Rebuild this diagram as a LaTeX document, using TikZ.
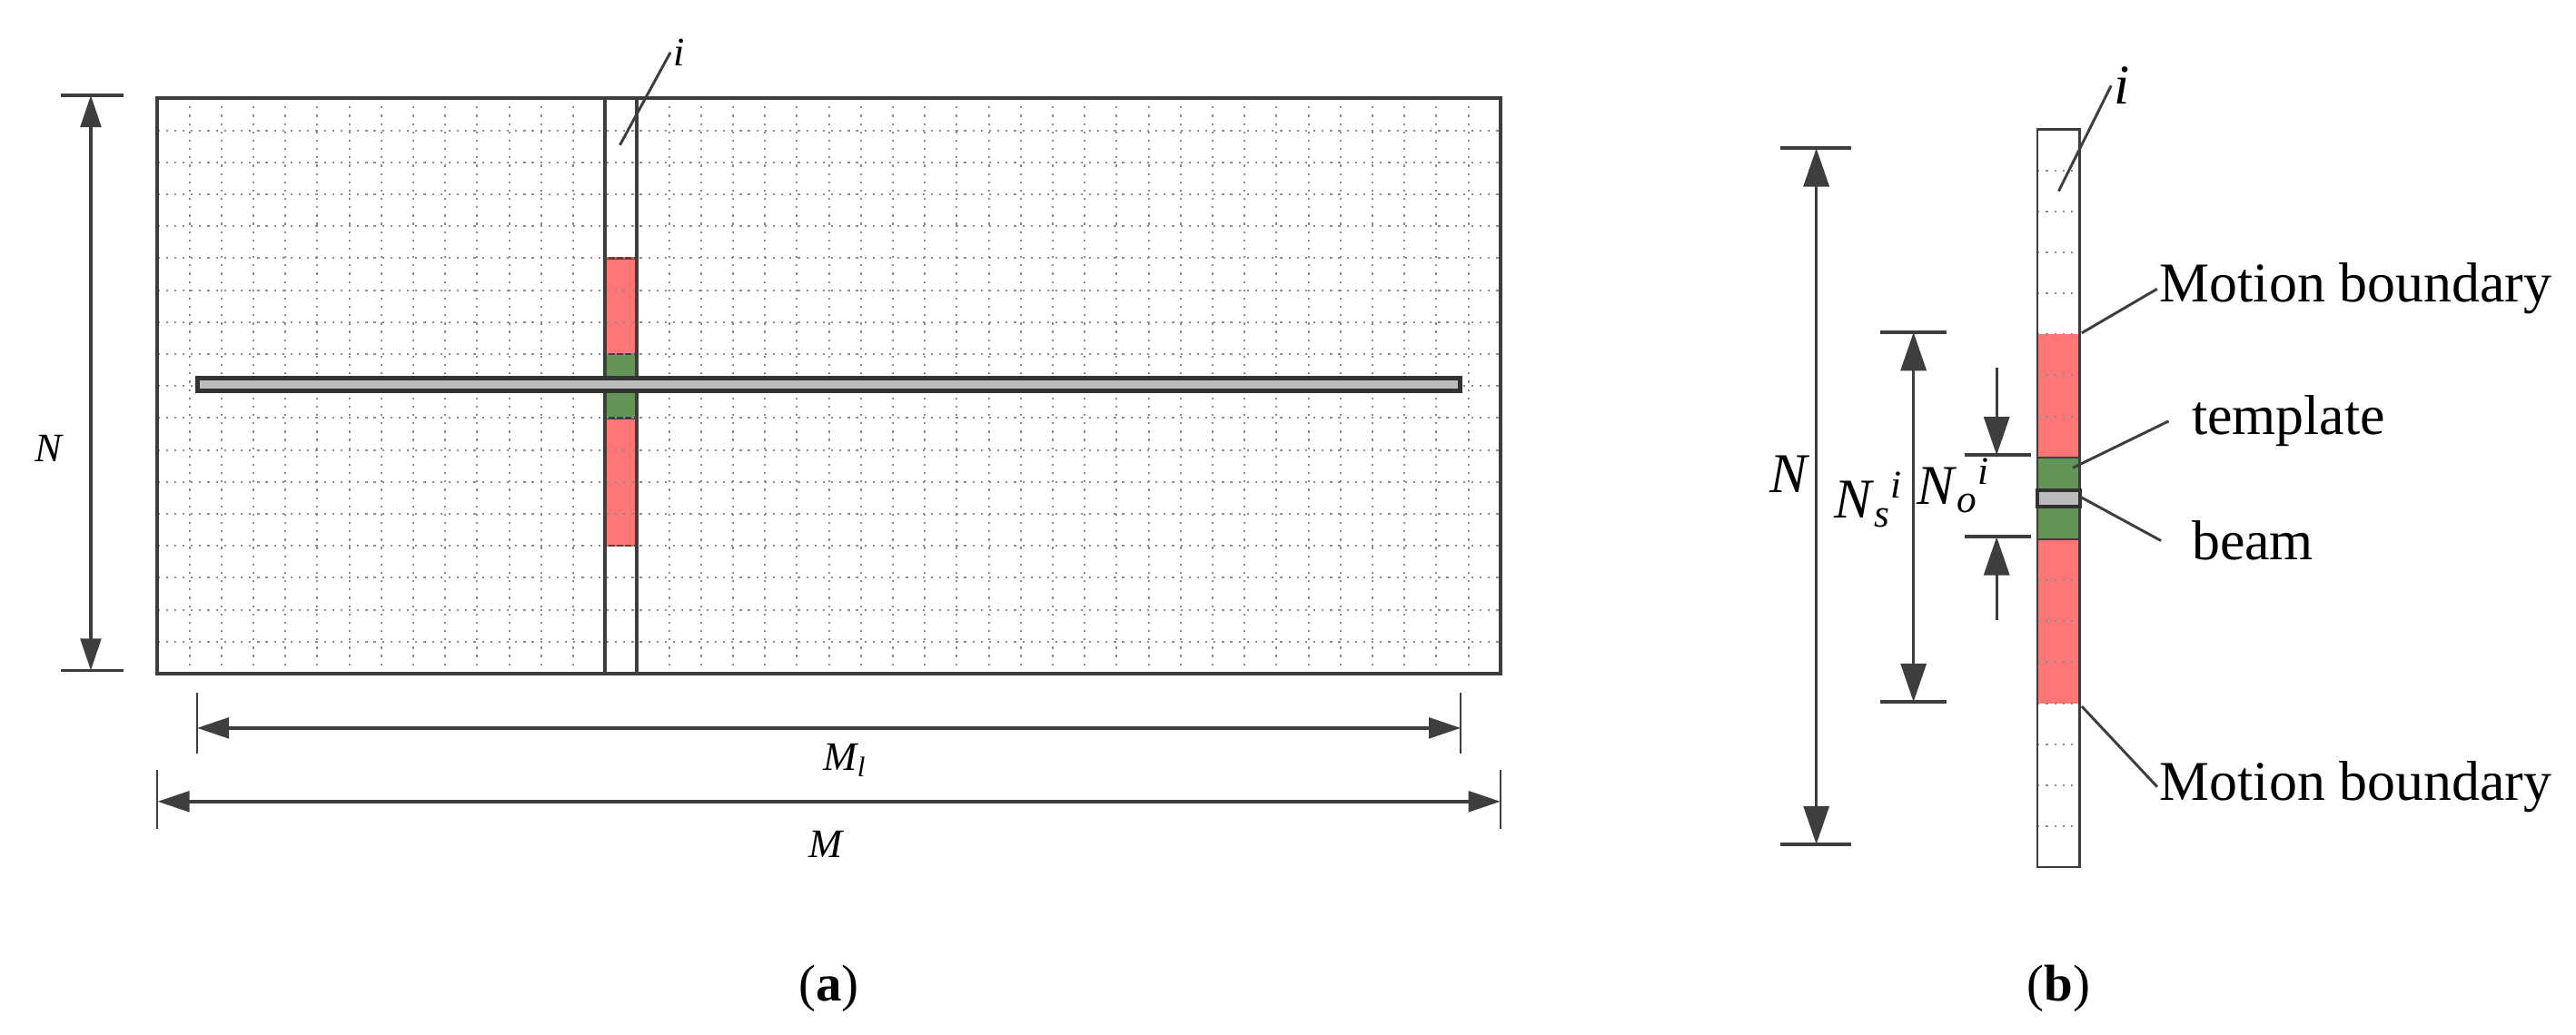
\documentclass[tikz,border=0pt]{standalone}
\usepackage{fontspec}
\setmainfont{Liberation Serif}
\usetikzlibrary{arrows.meta, positioning}
\usepackage{xcolor}

\definecolor{linegray}{RGB}{62,62,62}
\definecolor{dotgray}{RGB}{140,140,140}
\definecolor{motionred}{RGB}{255,118,118}
\definecolor{edgered}{RGB}{125,52,44}
\definecolor{templategreen}{RGB}{100,148,86}
\definecolor{beamgray}{RGB}{188,188,188}

\tikzset{
	tipa/.tip={Triangle[length=0.5cm,width=0.32cm]},
	tipb/.tip={Triangle[length=0.6cm,width=0.4cm]},
	frame/.style={draw=linegray, line width=1.6pt},
	griddots/.style={dotgray, line width=0.8pt, dash pattern=on 0.9pt off 2.8pt},
	tick/.style={linegray, line width=1.6pt},
	thintick/.style={linegray, line width=0.8pt},
	dima/.style={linegray, line width=1.6pt, {tipa}-{tipa}},
	dimb/.style={linegray, line width=1.2pt, {tipb}-{tipb}},
	dimone/.style={linegray, line width=1.2pt, -{tipb}},
	leader/.style={linegray, line width=1.2pt},
	beambar/.style={draw=linegray!80!black, fill=beamgray, line width=2pt},
	alab/.style={font=\fontsize{18}{20}\selectfont\itshape, inner sep=1pt},
	blab/.style={font=\fontsize{25}{28}\selectfont, inner sep=1pt},
	caplab/.style={font=\fontsize{23}{26}\selectfont, inner sep=1pt}
}

\begin{document}
\begin{tikzpicture}
	\useasboundingbox (-2.464,-5.639) rectangle (37.820,10.540);

	\filldraw[fill=motionred, draw=edgered, line width=1pt] (7,5) rectangle (7.5,6.5);
	\filldraw[fill=motionred, draw=edgered, line width=1pt] (7,2) rectangle (7.5,4);
	\filldraw[fill=templategreen, draw=linegray, line width=1pt] (7,4) rectangle (7.5,5);
	\draw[step=0.5cm, griddots] (0,0) grid (21,9);
	\draw[frame] (0,0) rectangle (21,9);
	\draw[frame] (7,0) -- (7,9);
	\draw[frame] (7.5,0) -- (7.5,9);
	\draw[beambar] (0.63,4.42) rectangle (20.37,4.62);

	\coordinate (naTop) at (-1.044,9.05);
	\coordinate (naBot) at (-1.044,0.05);
	\draw[tick] (-1.51,9.05) -- (-0.53,9.05);
	\draw[tick] (-1.51,0.05) -- (-0.53,0.05);
	\draw[dima] (naTop) -- (naBot);
	\node[alab] (labNa) at (-1.70,3.52) {N};

	\coordinate (mlLeft) at (0.617,-0.85);
	\coordinate (mlRight) at (20.38,-0.85);
	\draw[thintick] (0.617,-0.30) -- (0.617,-1.25);
	\draw[thintick] (20.38,-0.30) -- (20.38,-1.25);
	\draw[dima] (mlLeft) -- (mlRight);
	\node[alab, anchor=base] (labMl) at (10.75,-1.51) {M\textsubscript{l}};

	\coordinate (mLeft) at (0,-2.0);
	\coordinate (mRight) at (21,-2.0);
	\draw[thintick] (0,-1.51) -- (0,-2.43);
	\draw[thintick] (21,-1.51) -- (21,-2.43);
	\draw[dima] (mLeft) -- (mRight);
	\node[alab, anchor=base] (labM) at (10.45,-2.87) {M};

	\coordinate (ia) at (7.23,8.27);
	\node[alab, anchor=west] (labIa) at (8.02,9.72) {i};
	\draw[leader] (ia) -- (labIa.west);

	\node[caplab] (capA) at (10.5,-4.93) {(\textbf{a})};

	\fill[motionred] (29.40,3.386) rectangle (30.06,5.31);
	\fill[motionred] (29.40,-0.462) rectangle (30.06,2.103);
	\foreach \k in {1,...,17}
		\draw[griddots] (29.40,{8.516-0.6413*\k}) -- (30.06,{8.516-0.6413*\k});
	\filldraw[fill=templategreen, draw=linegray, line width=0.8pt] (29.40,2.103) rectangle (30.06,3.386);
	\draw[linegray, line width=1pt] (29.40,-3.026) rectangle (30.06,8.516);
	\draw[beambar, line width=1.6pt] (29.40,2.616) rectangle (30.06,2.872);

	\coordinate (ib) at (29.73,7.55);
	\node[blab, anchor=west] (labIb) at (30.55,9.2) {\textit{i}};
	\draw[leader] (ib) -- (labIb.west);

	\coordinate (nbTop) at (25.94,8.22);
	\coordinate (nbBot) at (25.94,-2.67);
	\draw[tick] (25.38,8.22) -- (26.49,8.22);
	\draw[tick] (25.38,-2.67) -- (26.49,-2.67);
	\draw[dimb] (nbTop) -- (nbBot);
	\node[blab, anchor=base east] (labNb) at (25.88,2.83) {\textit{N}};

	\coordinate (nsTop) at (27.46,5.34);
	\coordinate (nsBot) at (27.46,-0.44);
	\draw[tick] (26.94,5.34) -- (27.98,5.34);
	\draw[tick] (26.94,-0.44) -- (27.98,-0.44);
	\draw[dimb] (nsTop) -- (nsBot);
	\node[blab, anchor=base east] (labNs) at (27.33,2.43) {\textit{N}\textsubscript{\textit{s}}\textsuperscript{\textit{i}}};

	\coordinate (noTop) at (28.76,3.42);
	\coordinate (noBot) at (28.76,2.14);
	\coordinate (noAbove) at (28.76,4.79);
	\coordinate (noBelow) at (28.76,0.84);
	\draw[tick] (28.26,3.42) -- (29.29,3.42);
	\draw[tick] (28.26,2.14) -- (29.29,2.14);
	\draw[dimone] (noAbove) -- (noTop);
	\draw[dimone] (noBelow) -- (noBot);
	\node[blab, anchor=base east] (labNo) at (28.70,2.65) {\textit{N}\textsubscript{\textit{o}}\textsuperscript{\textit{i}}};

	\node[blab, anchor=base west] (txtMbTop) at (31.27,5.81) {Motion boundary};
	\node[blab, anchor=base west] (txtTemplate) at (31.77,3.74) {template};
	\node[blab, anchor=base west] (txtBeam) at (31.77,1.78) {beam};
	\node[blab, anchor=base west] (txtMbBot) at (31.27,-1.98) {Motion boundary};
	\coordinate (redTop) at (30.09,5.33);
	\coordinate (greenIn) at (29.95,3.22);
	\coordinate (beamEnd) at (30.08,2.76);
	\coordinate (redBot) at (30.09,-0.51);
	\draw[leader] (redTop) -- (txtMbTop.west);
	\draw[leader] (greenIn) -- ([xshift=-0.32cm]txtTemplate.west);
	\draw[leader] (beamEnd) -- ([xshift=-0.44cm]txtBeam.west);
	\draw[leader] (redBot) -- (txtMbBot.west);

	\node[caplab] (capB) at (29.73,-4.93) {(\textbf{b})};
\end{tikzpicture}
\end{document}
